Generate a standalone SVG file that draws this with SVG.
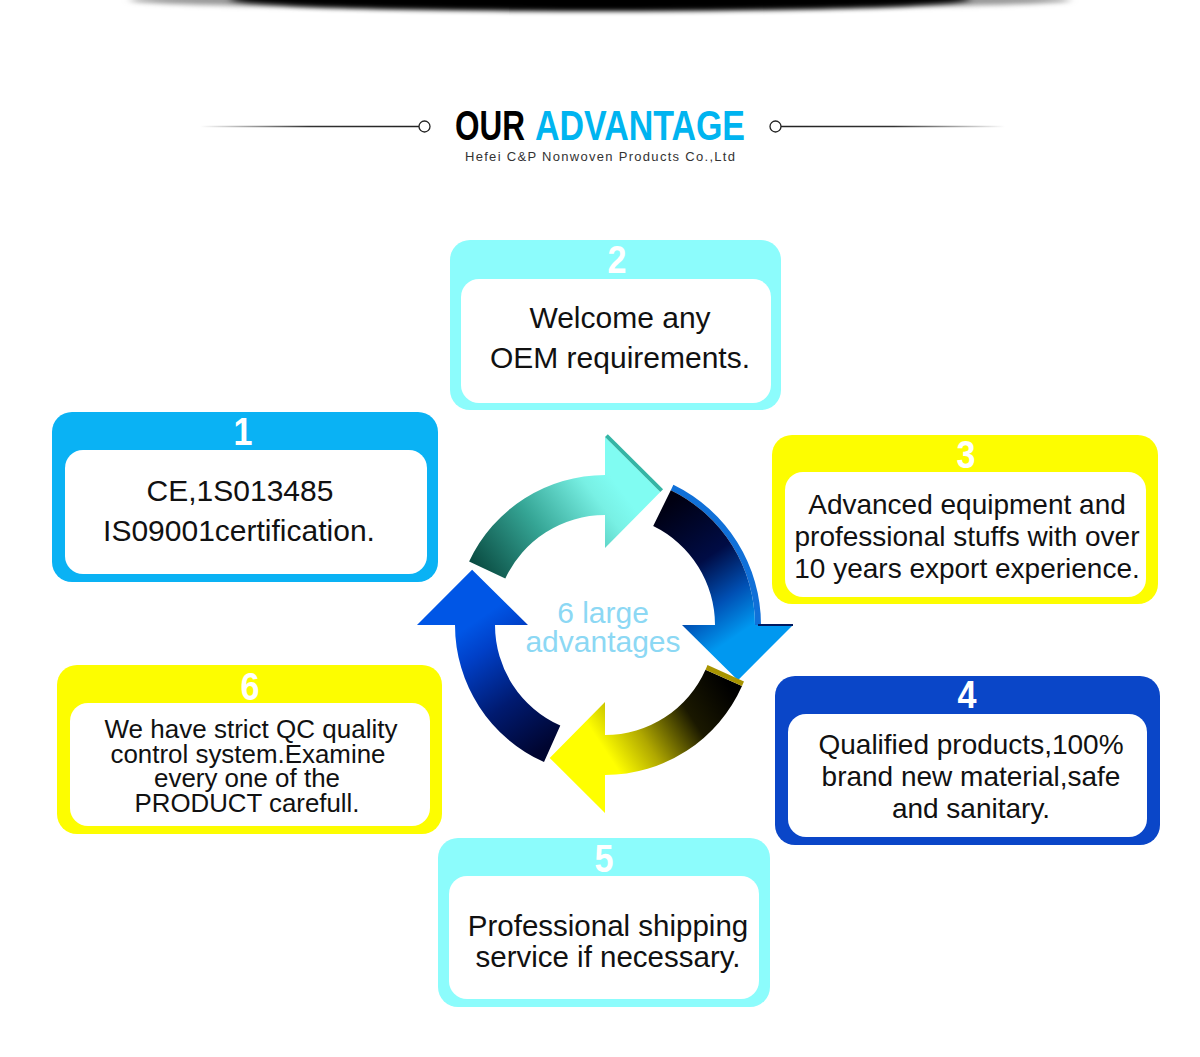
<svg xmlns="http://www.w3.org/2000/svg" width="1200" height="1057" viewBox="0 0 1200 1057">
<defs>
<style>
.txt{font-family:"Liberation Sans",Arial,"DejaVu Sans",sans-serif;fill:#111;text-anchor:middle}
.num{font-family:"Liberation Sans Narrow","Liberation Sans",Arial,sans-serif;font-weight:bold;font-size:38px;fill:#fff;text-anchor:middle}
.inner{fill:#fff}
.cyan{fill:#8cfcfc}
.yellow{fill:#fdfd00}
.sky{fill:#0ab2f4}
.royal{fill:#0a46c8}
</style>
<filter id="blur" x="-10%" y="-100%" width="120%" height="300%"><feGaussianBlur stdDeviation="4 2.5"/></filter>
<linearGradient id="lineL" x1="200" y1="0" x2="418" y2="0" gradientUnits="userSpaceOnUse"><stop offset="0" stop-color="#333" stop-opacity="0"/><stop offset="0.5" stop-color="#333"/><stop offset="1" stop-color="#222"/></linearGradient>
<linearGradient id="lineR" x1="782" y1="0" x2="1005" y2="0" gradientUnits="userSpaceOnUse"><stop offset="0" stop-color="#222"/><stop offset="0.5" stop-color="#333"/><stop offset="1" stop-color="#333" stop-opacity="0"/></linearGradient>
<linearGradient id="gA" x1="482" y1="575" x2="612" y2="478" gradientUnits="userSpaceOnUse"><stop offset="0" stop-color="#0a4c42"/><stop offset="0.45" stop-color="#35a595"/><stop offset="0.85" stop-color="#78f0e4"/><stop offset="1" stop-color="#80fcf2"/></linearGradient>
<linearGradient id="gB" x1="662" y1="508" x2="745" y2="630" gradientUnits="userSpaceOnUse"><stop offset="0" stop-color="#000012"/><stop offset="0.45" stop-color="#000c45"/><stop offset="0.75" stop-color="#0050b4"/><stop offset="1" stop-color="#0098f0"/></linearGradient>
<linearGradient id="gC" x1="724" y1="678" x2="608" y2="755" gradientUnits="userSpaceOnUse"><stop offset="0" stop-color="#000"/><stop offset="0.35" stop-color="#1a1800"/><stop offset="0.72" stop-color="#b0a800"/><stop offset="1" stop-color="#ffff00"/></linearGradient>
<linearGradient id="gD" x1="551" y1="744" x2="470" y2="625" gradientUnits="userSpaceOnUse"><stop offset="0" stop-color="#000530"/><stop offset="0.4" stop-color="#001a70"/><stop offset="0.8" stop-color="#0040c8"/><stop offset="1" stop-color="#0056e6"/></linearGradient>
</defs>
<rect width="1200" height="1057" fill="#fff"/>

<g id="top-shadow">
<ellipse cx="600" cy="0" rx="470" ry="9" fill="#999" filter="url(#blur)"/>
<ellipse cx="600" cy="-1" rx="370" ry="12" fill="#000" filter="url(#blur)"/>
</g>

<g id="title">
<line x1="200" y1="126.5" x2="419" y2="126.5" stroke="url(#lineL)" stroke-width="1.3"/>
<circle cx="424.5" cy="126.5" r="5.5" fill="#fff" stroke="#222" stroke-width="1.3"/>
<line x1="781" y1="126.5" x2="1005" y2="126.5" stroke="url(#lineR)" stroke-width="1.3"/>
<circle cx="775.5" cy="126.5" r="5.5" fill="#fff" stroke="#222" stroke-width="1.3"/>
<text x="455" y="140" font-family="'Liberation Sans Narrow','Liberation Sans',Arial,sans-serif" font-weight="bold" font-size="43" fill="#000" textLength="70" lengthAdjust="spacingAndGlyphs">OUR</text>
<text x="535" y="140" font-family="'Liberation Sans Narrow','Liberation Sans',Arial,sans-serif" font-weight="bold" font-size="43" fill="#00b4f0" textLength="210" lengthAdjust="spacingAndGlyphs">ADVANTAGE</text>
<text x="465" y="161" font-family="'Liberation Sans',Arial,sans-serif" font-size="13" fill="#333" textLength="270" lengthAdjust="spacing">Hefei C&amp;P Nonwoven Products Co.,Ltd</text>
</g>

<g id="connectors">
<g id="arrow-1-2">
<path d="M469.1,561.6 A150,150 0 0 1 605,475 L605,437 L660.3,492.1 L605,548 L605,515 A110,110 0 0 0 505.3,578.5 Z" fill="url(#gA)"/>
<polygon points="605,437 660.3,492.1 663.1,489.3 607.8,434.2" fill="#35b5a5"/>
</g>
<g id="arrow-3-4">
<path d="M670.8,490.2 A150,150 0 0 1 755,625 L761,625 A156,156 0 0 0 673.4,484.8 Z" fill="#1070d8"/>
<path d="M670.8,490.2 A150,150 0 0 1 755,625 L793,625 L737.9,680.3 L682,625 L715,625 A110,110 0 0 0 653.2,526.1 Z" fill="url(#gB)"/>
<line x1="758" y1="625" x2="793" y2="625" stroke="#001a60" stroke-width="2"/>
</g>
<g id="arrow-4-5">
<path d="M742,686 A150,150 0 0 1 605,775 L605,813 L549.7,757.9 L605,702 L605,735 A110,110 0 0 0 705.5,669.7 Z" fill="url(#gC)"/>
<polygon points="705.5,669.7 742,686 744,681.4 707.5,665.1" fill="#a89400"/>
</g>
<g id="arrow-6-1">
<path d="M544,762 A150,150 0 0 1 455,625 L417,625 L472.1,569.7 L528,625 L495,625 A110,110 0 0 0 560.3,725.5 Z" fill="url(#gD)"/>
</g>
</g>

<g id="center-label">
<text class="txt" x="603" y="623" font-size="30" style="fill:#8cd8f4">6 large</text>
<text class="txt" x="603" y="652" font-size="30" style="fill:#8cd8f4">advantages</text>
</g>

<g id="node-1">
<rect class="sky" x="52" y="412" width="386" height="170" rx="20"/>
<rect class="inner" x="65" y="450" width="362" height="124" rx="18"/>
<text class="num" x="243" y="445" textLength="19" lengthAdjust="spacingAndGlyphs">1</text>
<text class="txt" x="240" y="501" font-size="30">CE,1S013485</text>
<text class="txt" x="239" y="541" font-size="30">IS09001certification.</text>
</g>

<g id="node-2">
<rect class="cyan" x="450" y="240" width="331" height="170" rx="20"/>
<rect class="inner" x="461" y="279" width="310" height="124" rx="18"/>
<text class="num" x="617" y="273" textLength="19" lengthAdjust="spacingAndGlyphs">2</text>
<text class="txt" x="620" y="328" font-size="30">Welcome any</text>
<text class="txt" x="620" y="368" font-size="30">OEM requirements.</text>
</g>

<g id="node-3">
<rect class="yellow" x="772" y="435" width="386" height="169" rx="20"/>
<rect class="inner" x="785" y="472" width="361" height="125" rx="18"/>
<text class="num" x="966" y="468" textLength="19" lengthAdjust="spacingAndGlyphs">3</text>
<text class="txt" x="967" y="514" font-size="28">Advanced equipment and</text>
<text class="txt" x="967" y="546" font-size="28">professional stuffs with over</text>
<text class="txt" x="967" y="578" font-size="28">10 years export experience.</text>
</g>

<g id="node-4">
<rect class="royal" x="775" y="676" width="385" height="169" rx="20"/>
<rect class="inner" x="788" y="714" width="359" height="123" rx="18"/>
<text class="num" x="967" y="708" textLength="19" lengthAdjust="spacingAndGlyphs">4</text>
<text class="txt" x="971" y="754" font-size="28">Qualified products,100%</text>
<text class="txt" x="971" y="786" font-size="28">brand new material,safe</text>
<text class="txt" x="971" y="818" font-size="28">and sanitary.</text>
</g>

<g id="node-5">
<rect class="cyan" x="438" y="838" width="332" height="169" rx="20"/>
<rect class="inner" x="449" y="876" width="310" height="123" rx="18"/>
<text class="num" x="604" y="872" textLength="19" lengthAdjust="spacingAndGlyphs">5</text>
<text class="txt" x="608" y="936" font-size="29.5">Professional shipping</text>
<text class="txt" x="608" y="967" font-size="29.5">service if necessary.</text>
</g>

<g id="node-6">
<rect class="yellow" x="57" y="665" width="385" height="169" rx="20"/>
<rect class="inner" x="70" y="703" width="360" height="123" rx="18"/>
<text class="num" x="250" y="700" textLength="19" lengthAdjust="spacingAndGlyphs">6</text>
<text class="txt" x="251" y="738" font-size="25" textLength="293" lengthAdjust="spacingAndGlyphs">We have strict QC quality</text>
<text class="txt" x="248" y="762.5" font-size="25" textLength="275" lengthAdjust="spacingAndGlyphs">control system.Examine</text>
<text class="txt" x="247" y="787" font-size="25" textLength="186" lengthAdjust="spacingAndGlyphs">every one of the</text>
<text class="txt" x="247" y="811.5" font-size="25" textLength="225" lengthAdjust="spacingAndGlyphs">PRODUCT carefull.</text>
</g>
</svg>
